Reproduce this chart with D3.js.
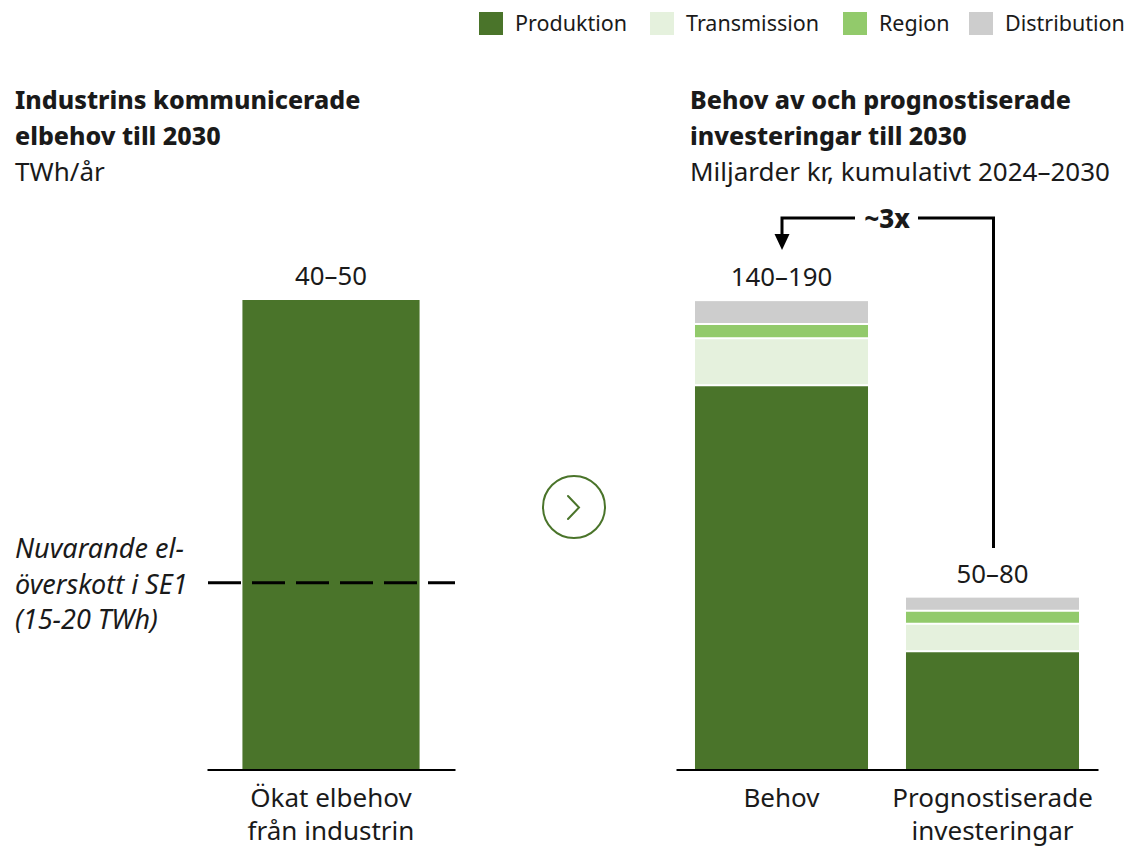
<!DOCTYPE html>
<html>
<head>
<meta charset="utf-8">
<script src="https://cdn.jsdelivr.net/npm/d3@7"></script>
<style>
html, body { margin: 0; padding: 0; background: #fff; }
svg { display: block; }
text { font-family: "Noto Sans", sans-serif; fill: #1a1a1a; }
</style>
</head>
<body>
<svg id="chart" width="1126" height="847"></svg>
<script>
var seriesNames = ["Produktion", "Transmission", "Region", "Distribution"];
var seriesColors = ["#4a742a", "#e5f1dd", "#92ca6b", "#cdcdcd"];

var leftCategories = [["Ökat elbehov", "från industrin"]];
var leftValues = [45];
var leftLabels = ["40–50"];
var surplusValue = 17.9;
var surplusNote = ["Nuvarande el-", "överskott i SE1", "(15-20 TWh)"];

var rightCategories = [["Behov"], ["Prognostiserade", "investeringar"]];
var produktion = [135, 41.6];
var transmission = [16.6, 9.6];
var region = [5, 4.6];
var distribution = [8, 4.6];
var rightLabels = ["140–190", "50–80"];

var leftTitle = ["Industrins kommunicerade", "elbehov till 2030"];
var leftUnit = "TWh/år";
var rightTitle = ["Behov av och prognostiserade", "investeringar till 2030"];
var rightUnit = "Miljarder kr, kumulativt 2024–2030";

var svg = d3.select("#chart");
var baseY = 769.5, topY = 300;

// left panel
var xLeft = d3.scaleBand().domain(d3.range(leftValues.length)).range([207, 455]).paddingOuter(0.2).paddingInner(0);
var yLeft = d3.scaleLinear().domain([0, 45]).range([baseY, topY]);

svg.selectAll(".left-bar")
    .data(leftValues)
    .enter().append("rect")
    .attr("class", "left-bar")
    .attr("x", function(d, i) { return xLeft(i); })
    .attr("width", xLeft.bandwidth())
    .attr("y", function(d) { return yLeft(d); })
    .attr("height", function(d) { return baseY - yLeft(d); })
    .style("fill", seriesColors[0]);

svg.append("line")
    .attr("x1", 208).attr("x2", 455)
    .attr("y1", yLeft(surplusValue)).attr("y2", yLeft(surplusValue))
    .style("stroke", "#000")
    .style("stroke-width", 3)
    .style("stroke-dasharray", "33 11");

svg.selectAll(".left-note")
    .data(surplusNote)
    .enter().append("text")
    .attr("x", 15)
    .attr("y", function(d, i) { return 558 + i * 35.5; })
    .style("font-size", "27px")
    .style("font-style", "italic")
    .text(function(d) { return d; });

// right panel
var xRight = d3.scaleBand().domain(d3.range(rightCategories.length)).range([676, 1098]).paddingInner(0.18).paddingOuter(0.09);
var yRight = d3.scaleLinear().domain([0, 165]).range([baseY, topY]);

var table = rightCategories.map(function(c, i) {
    return { Produktion: produktion[i], Transmission: transmission[i], Region: region[i], Distribution: distribution[i] };
});
var stacked = d3.stack().keys(seriesNames)(table);

var layers = svg.selectAll(".layer")
    .data(stacked)
    .enter().append("g")
    .attr("class", "layer")
    .style("fill", function(d, i) { return seriesColors[i]; });

layers.selectAll("rect")
    .data(function(d) { return d; })
    .enter().append("rect")
    .attr("x", function(d, i) { return xRight(i); })
    .attr("width", xRight.bandwidth())
    .attr("y", function(d) { return yRight(d[1]); })
    .attr("height", function(d) { return yRight(d[0]) - yRight(d[1]); });

// thin white gaps between the segments
layers.filter(function(d, i) { return i > 0; })
    .append("g")
    .selectAll("line")
    .data(function(d) { return d; })
    .enter().append("line")
    .attr("x1", function(d, i) { return xRight(i); })
    .attr("x2", function(d, i) { return xRight(i) + xRight.bandwidth(); })
    .attr("y1", function(d) { return yRight(d[0]); })
    .attr("y2", function(d) { return yRight(d[0]); })
    .style("stroke", "#fff")
    .style("stroke-width", 2);

// totals
svg.selectAll(".left-total")
    .data(leftLabels)
    .enter().append("text")
    .attr("x", function(d, i) { return xLeft(i) + xLeft.bandwidth() / 2; })
    .attr("y", topY - 15)
    .attr("text-anchor", "middle")
    .style("font-size", "25.8px")
    .text(function(d) { return d; });

svg.selectAll(".right-total")
    .data(rightLabels)
    .enter().append("text")
    .attr("x", function(d, i) { return xRight(i) + xRight.bandwidth() / 2; })
    .attr("y", function(d, i) { return yRight(d3.sum(stacked, function(s) { return s[i][1] - s[i][0]; })) - 15; })
    .attr("text-anchor", "middle")
    .style("font-size", "25.8px")
    .text(function(d) { return d; });

// baselines and category labels
function drawAxis(scale, cats) {
    var g = svg.append("g").attr("transform", "translate(0," + baseY + ")");
    g.call(d3.axisBottom(scale).tickSize(0).tickFormat(""));
    g.select(".domain").style("stroke", "#000").style("stroke-width", 2);
    cats.forEach(function(lines, i) {
        lines.forEach(function(t, j) {
            svg.append("text")
                .attr("x", scale(i) + scale.bandwidth() / 2)
                .attr("y", 807 + j * 33)
                .attr("text-anchor", "middle")
                .style("font-size", "26px")
                .text(t);
        });
    });
}
drawAxis(xLeft, leftCategories);
drawAxis(xRight, rightCategories);

// titles
function drawTitle(x, lines, unit) {
    lines.forEach(function(t, i) {
        svg.append("text")
            .attr("x", x)
            .attr("y", 109 + i * 35.5)
            .style("font-size", "25px")
            .style("font-weight", 800)
            .text(t);
    });
    svg.append("text")
        .attr("x", x)
        .attr("y", 181)
        .style("font-size", "26px")
        .text(unit);
}
drawTitle(15, leftTitle, leftUnit);
drawTitle(690, rightTitle, rightUnit);

// legend
var legendX = [479, 650, 843, 969];
var legend = svg.selectAll(".legend")
    .data(seriesNames)
    .enter().append("g")
    .attr("class", "legend")
    .attr("transform", function(d, i) { return "translate(" + legendX[i] + ",12)"; });
legend.append("rect")
    .attr("width", 24).attr("height", 23)
    .style("fill", function(d, i) { return seriesColors[i]; });
legend.append("text")
    .attr("x", 36).attr("y", 19)
    .style("font-size", "21.5px")
    .text(function(d) { return d; });

// circle with chevron between the panels
svg.append("circle")
    .attr("cx", 574).attr("cy", 507).attr("r", 31)
    .style("fill", "none")
    .style("stroke", seriesColors[0])
    .style("stroke-width", 2);
svg.append("path")
    .attr("d", d3.line()([[568, 496], [579, 507.5], [568, 519]]))
    .style("fill", "none")
    .style("stroke", seriesColors[0])
    .style("stroke-width", 2)
    .style("stroke-linecap", "round");

// ~3x bracket
svg.append("path")
    .attr("d", d3.line()([[855, 218], [782, 218], [782, 236]]))
    .style("fill", "none").style("stroke", "#000").style("stroke-width", 3);
svg.append("path")
    .attr("d", d3.line()([[918, 218], [993.5, 218], [993.5, 548]]))
    .style("fill", "none").style("stroke", "#000").style("stroke-width", 3);
svg.append("path")
    .attr("d", d3.line()([[774.5, 234], [789.5, 234], [782, 250]]) + "Z")
    .style("fill", "#000");
svg.append("text")
    .attr("x", 887).attr("y", 228)
    .attr("text-anchor", "middle")
    .style("font-size", "26px")
    .style("font-weight", 800)
    .text("~3x");
</script>
</body>
</html>
